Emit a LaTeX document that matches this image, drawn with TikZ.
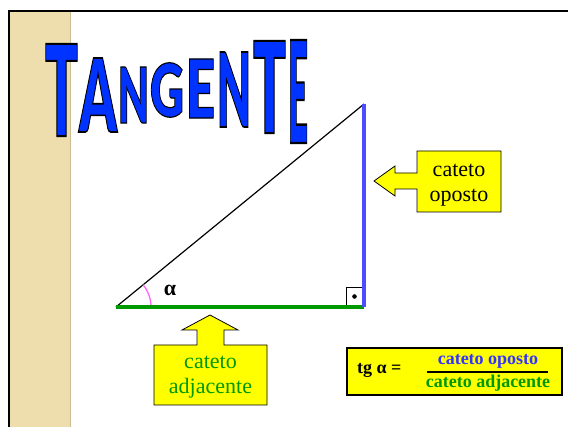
\documentclass[tikz,border=0pt]{standalone}
\usepackage{fontspec}
\setmainfont{Liberation Serif}
\newfontfamily\titlefont[FakeBold=1.6]{Lato Black}
\usepackage{graphicx}
\usetikzlibrary{calc}
\definecolor{titleblue}{RGB}{0,51,255}
\definecolor{legblue}{RGB}{77,77,255}
\definecolor{leggreen}{RGB}{0,153,0}
\definecolor{callyellow}{RGB}{255,255,0}
\definecolor{stripcol}{RGB}{238,222,174}
\definecolor{arcpink}{RGB}{255,102,255}
\definecolor{numblue}{RGB}{51,51,255}
\newcommand{\tletter}[3]{\resizebox{#1pt}{#2pt}{\titlefont\special{pdf:literal direct 0 0 0 RG}#3}}
\begin{document}
\begin{tikzpicture}[x=1pt,y=-1pt,
  letter/.style={inner sep=0pt, outer sep=0pt, text=titleblue, anchor=center},
  callout/.style={draw=black, line width=0.8pt, fill=callyellow, line join=miter},
  calltext/.style={inner sep=0pt, align=center, font=\fontsize{22}{25}\selectfont},
  formula/.style={inner sep=0pt, font=\bfseries\fontsize{18}{20}\selectfont}]
\useasboundingbox (0,0) rectangle (568,427);
\fill[white] (0,0) rectangle (568,427);
% left decorative strip and frame
\fill[stripcol] (10,12) rectangle (70,427);
\draw[stripcol!85!black, line width=1pt] (70,12) -- (70,427);
\draw[line width=2.5pt] (9,427) -- (9,11) -- (568,11);
% title
\node[letter] (t1) at (61.5,90) {\tletter{33}{92}{T}};
\node[letter] (t2) at (98,95) {\tletter{38}{74}{A}};
\node[letter] (t3) at (133.5,95) {\tletter{31}{56}{N}};
\node[letter] (t4) at (167,90) {\tletter{34}{54}{G}};
\node[letter] (t5) at (200.5,88.5) {\tletter{29}{59}{E}};
\node[letter] (t6) at (234,89.5) {\tletter{34}{75}{N}};
\node[letter] (t7) at (269.5,87) {\tletter{33}{92}{T}};
\node[letter] (t8) at (298,91.5) {\tletter{20}{103}{E}};
% triangle
\coordinate (A) at (116,307);
\coordinate (B) at (364,307);
\coordinate (C) at (364,104);
\node[draw=black, fill=white, line width=0.8pt, minimum width=17pt, minimum height=19pt, inner sep=0pt] (ra) at (354.5,296.5) {};
\node[circle, fill=black, inner sep=0pt, minimum size=4.6pt] (dot) at (ra.center) {};
\draw[line width=1.2pt] (A) -- (C);
\draw[arcpink, line width=1.3pt] (A) ++(35,0) arc[start angle=0, end angle=-39.3, radius=35];
\draw[leggreen, line width=4.5pt] (A) -- (B);
\draw[legblue, line width=4.5pt] (B) -- (C);
\node[inner sep=0pt, font=\bfseries\fontsize{22}{24}\selectfont] (alpha) at (170,290) {α};
% callout: cateto oposto
\draw[callout] (417,151) -- (501,151) -- (501,212) -- (417,212) -- (417,189) -- (395,189) -- (395,196) -- (374,181) -- (395,166) -- (395,173) -- (417,173) -- cycle;
\node[calltext] (oposto) at (459,185.5) {cateto\\oposto};
% callout: cateto adjacente
\draw[callout] (154,345) -- (197,345) -- (197,330) -- (182,330) -- (210,315) -- (238,330) -- (224,330) -- (224,345) -- (267,345) -- (267,405) -- (154,405) -- cycle;
\node[calltext, text=leggreen] (adjac) at (210.5,377) {cateto\\adjacente};
% formula
\node[draw=black, line width=1.2pt, fill=callyellow, minimum width=215pt, minimum height=47pt, inner sep=0pt] (fbox) at (454.5,371.5) {};
\node[formula, anchor=base west] (tg) at (357,374) {tg α =};
\node[formula, anchor=base, text=numblue] (num) at (488,365) {cateto oposto};
\node[formula, anchor=base, text=leggreen] (den) at (488,388) {cateto adjacente};
\coordinate (fl) at (427,372);
\coordinate (fr) at (548,372);
\draw[line width=2pt] (fl) -- (fr);
\end{tikzpicture}
\end{document}
